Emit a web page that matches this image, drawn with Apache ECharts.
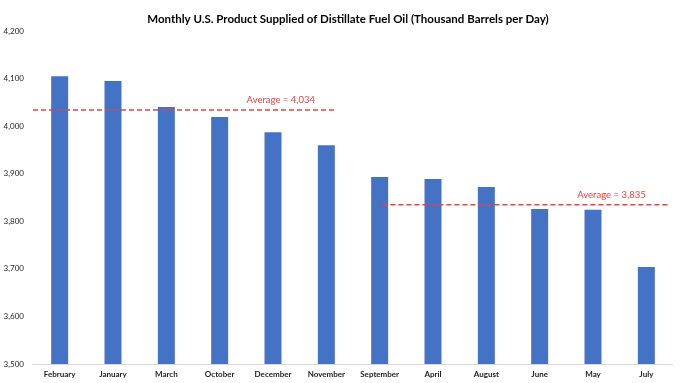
<!DOCTYPE html>
<html>
<head>
<meta charset="utf-8">
<script src="https://cdn.jsdelivr.net/npm/echarts@6/dist/echarts.min.js"></script>
<style>html,body{margin:0;padding:0;background:#fff}#c{width:680px;height:383px}</style>
</head>
<body>
<div id="c"></div>
<script>
var categories = ["February","January","March","October","December","November","September","April","August","June","May","July"];
var values = [4105, 4095, 4040, 4019, 3987, 3960, 3893, 3889, 3872, 3826, 3824, 3704];
var avgHigh = 4034;
var avgLow = 3835;
var avgHighSpan = [0.0, 5.7];
var avgLowSpan = [6.55, 11.9];
var yTicks = {min: 3500, max: 4200, interval: 100};

var chart = echarts.init(document.getElementById('c'), null, {renderer: 'canvas'});
var fontFam = 'Lato, "Open Sans", sans-serif';
function avgSeries(val, span) {
  return {
    type: 'line', xAxisIndex: 1, yAxisIndex: 0, symbol: 'none', silent: true,
    lineStyle: {color: '#E8423F', width: 1.5, type: [5, 3]},
    data: [[span[0], val], [span[1], val]],
    endLabel: {show: true, align: 'right', verticalAlign: 'bottom', distance: 0,
      offset: [-22, -5], color: '#E8423F', fontSize: 9.5, fontFamily: fontFam,
      formatter: 'Average = ' + val.toLocaleString('en-US')},
    z: 5
  };
}
chart.setOption({
  animation: false,
  title: {text: 'Monthly U.S. Product Supplied of Distillate Fuel Oil (Thousand Barrels per Day)',
    left: 343, textAlign: 'center', top: 8,
    textStyle: {fontSize: 11.5, fontWeight: 'bold', color: '#000', fontFamily: fontFam}},
  grid: {left: 33, right: 7, top: 31, bottom: 19},
  xAxis: [{
    type: 'category', data: categories,
    axisLine: {lineStyle: {color: '#D9D9D9'}}, axisTick: {show: false},
    axisLabel: {fontSize: 8, fontWeight: 'bold', color: '#222', margin: 6, fontFamily: fontFam, interval: 0}
  }, {
    type: 'value', min: 0, max: 12, show: false
  }],
  yAxis: {
    type: 'value', min: yTicks.min, max: yTicks.max, interval: yTicks.interval,
    splitLine: {show: false}, axisLine: {show: false}, axisTick: {show: false},
    axisLabel: {fontSize: 8, color: '#222', margin: 9, fontFamily: fontFam,
      formatter: function(v){return v.toLocaleString('en-US');}}
  },
  series: [{
    type: 'bar', data: values, barWidth: 17,
    itemStyle: {color: '#4472C4'}
  }, avgSeries(avgHigh, avgHighSpan), avgSeries(avgLow, avgLowSpan)]
});
</script>
</body>
</html>
